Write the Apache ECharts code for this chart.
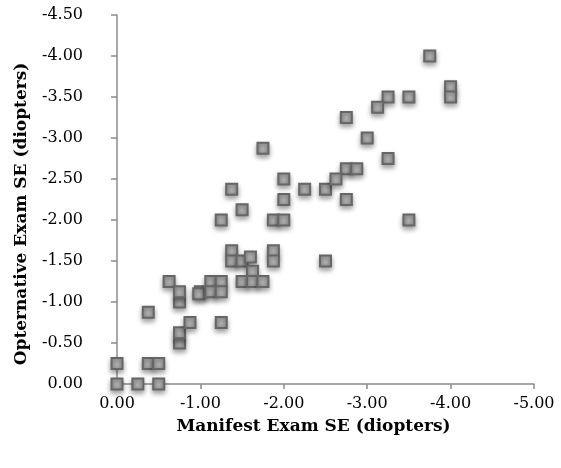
<!DOCTYPE html>
<html>
<head>
<meta charset="utf-8">
<script src="https://cdn.jsdelivr.net/npm/echarts@6/dist/echarts.min.js"></script>
<style>
html,body{margin:0;padding:0;background:#fff;}
#chart{width:561px;height:468px;}
</style>
</head>
<body>
<div id="chart"></div>
<script>
const manifestSE = [
  0, 0, -0.25, -0.5, -0.375, -0.5, -0.375, -0.75, -0.75, -0.875,
  -1.25, -0.625, -0.75, -0.75, -1.0, -0.98, -1.125, -1.25, -1.125, -1.25,
  -1.25, -1.375, -1.5, -1.375, -1.375, -1.5, -1.6, -1.625, -1.5, -1.625,
  -1.75, -1.875, -2.0, -1.875, -1.875, -2.0, -2.0, -2.25, -2.5, -2.5,
  -1.75, -3.75, -4.0, -4.0, -3.25, -3.125, -3.5, -2.75, -3.0, -3.25,
  -2.75, -2.875, -2.625, -2.75, -3.5
];
const opternativeSE = [
  0, -0.25, 0, 0, -0.25, -0.25, -0.875, -0.5, -0.625, -0.75,
  -0.75, -1.25, -1.0, -1.125, -1.125, -1.1, -1.25, -1.25, -1.125, -1.125,
  -2.0, -2.375, -2.125, -1.625, -1.5, -1.5, -1.55, -1.375, -1.25, -1.25,
  -1.25, -2.0, -2.0, -1.625, -1.5, -2.25, -2.5, -2.375, -2.375, -1.5,
  -2.875, -4.0, -3.625, -3.5, -3.5, -3.375, -3.5, -3.25, -3.0, -2.75,
  -2.625, -2.625, -2.5, -2.25, -2.0
];
const xTitle = 'Manifest Exam SE (diopters)';
const yTitle = 'Opternative Exam SE (diopters)';

const points = manifestSE.map((x, i) => [x, opternativeSE[i]]);
const fontFam = 'DejaVu Serif';
const axisColor = '#8c8c8c';
const fmt = v => (Math.abs(v) < 1e-9 ? 0 : v).toFixed(2);

const chart = echarts.init(document.getElementById('chart'), null, {renderer: 'canvas'});
chart.setOption({
  animation: false,
  backgroundColor: '#ffffff',
  grid: {left: 117, right: 27, top: 15, bottom: 84},
  graphic: [
    {
      type: 'text', x: 22, y: 214, rotation: Math.PI / 2,
      style: {text: yTitle, fill: '#000', font: 'bold 17px "DejaVu Serif"', align: 'center', verticalAlign: 'middle'}
    }
  ],
  xAxis: {
    type: 'value', inverse: true, min: -5, max: 0, interval: 1,
    axisLine: {show: true, onZero: false, lineStyle: {color: axisColor, width: 1.5}},
    axisTick: {show: true, length: 5, lineStyle: {color: axisColor, width: 1.5}},
    splitLine: {show: false},
    axisLabel: {formatter: fmt, color: '#000', fontFamily: fontFam, fontSize: 16, margin: 12},
    name: xTitle, nameLocation: 'middle', nameGap: 34,
    nameTextStyle: {color: '#000', fontFamily: fontFam, fontWeight: 'bold', fontSize: 17, padding: [0, 24, 0, 0]}
  },
  yAxis: {
    type: 'value', inverse: true, min: -4.5, max: 0, interval: 0.5,
    axisLine: {show: true, onZero: false, lineStyle: {color: axisColor, width: 1.5}},
    axisTick: {show: true, length: 6, lineStyle: {color: axisColor, width: 1.5}},
    splitLine: {show: false},
    axisLabel: {formatter: fmt, color: '#000', fontFamily: fontFam, fontSize: 16, margin: 34}
  },
  series: [{
    type: 'scatter',
    data: points,
    symbol: 'rect',
    symbolSize: 11,
    itemStyle: {
      color: new echarts.graphic.RadialGradient(0.5, 0.5, 0.7, [
        {offset: 0, color: '#bdbdbd'},
        {offset: 1, color: '#878787'}
      ]),
      borderColor: '#666666',
      borderWidth: 2,
      shadowBlur: 5,
      shadowOffsetY: 3,
      shadowColor: 'rgba(0,0,0,0.35)',
      opacity: 1
    }
  }]
});
</script>
</body>
</html>
